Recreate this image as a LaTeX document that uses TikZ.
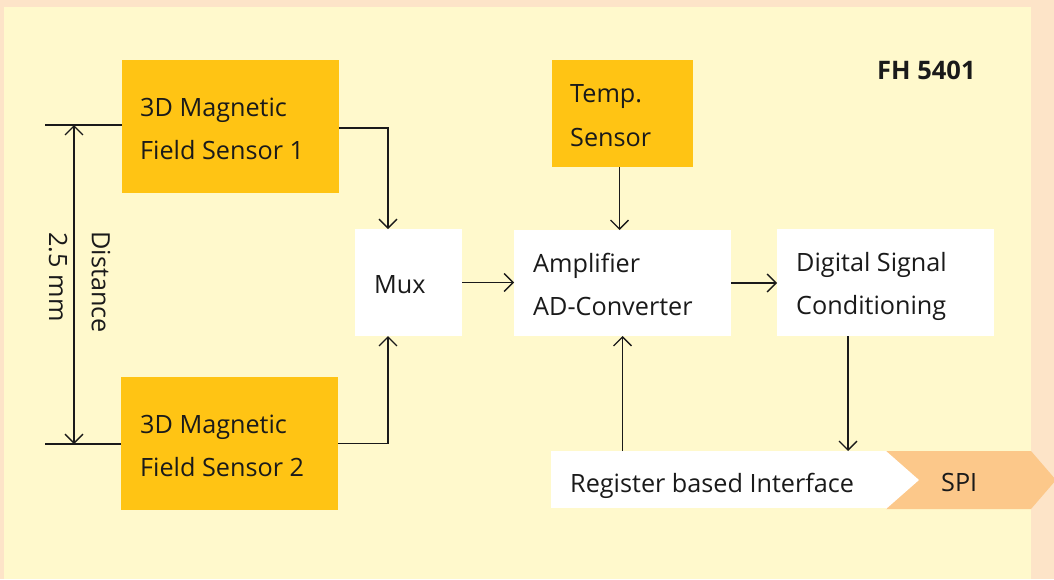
\documentclass[tikz,border=0pt]{standalone}
\usepackage{fontspec}
\setmainfont{Open Sans}
\usetikzlibrary{arrows.meta,calc}
\definecolor{outerbg}{HTML}{FDE4C8}
\definecolor{innerbg}{HTML}{FFF9CC}
\definecolor{sensororange}{HTML}{FFC414}
\definecolor{spicolor}{HTML}{FCC88A}
\definecolor{ink}{HTML}{1A1A1A}
\tikzset{
  obox/.style={fill=sensororange, anchor=north west, inner sep=0pt, outer sep=0pt},
  wbox/.style={fill=white, anchor=north west, inner sep=0pt, outer sep=0pt},
  lbl/.style={anchor=base west, inner sep=0pt, text=ink, font=\fontsize{25.2}{25.2}\selectfont},
  conn/.style={ink, line width=1.3pt, -{Straight Barb[length=9pt,width=18pt,line width=1.3pt]}},
  dimarrow/.style={ink, line width=1.3pt, {Straight Barb[length=9pt,width=18pt,line width=1.3pt]}-{Straight Barb[length=9pt,width=18pt,line width=1.3pt]}},
  plainline/.style={ink, line width=1.3pt},
}
\begin{document}
\begin{tikzpicture}[x=1pt,y=-1pt]
\useasboundingbox (0,0) rectangle (1054,579);
\clip (0,0) rectangle (1054,579);
\fill[outerbg] (0,0) rectangle (1054,579);
\fill[innerbg] (4,7) rectangle (1031,579);

% boxes
\node[obox, minimum width=217pt, minimum height=133pt] (s1) at (122,60) {};
\node[obox, minimum width=217pt, minimum height=133pt] (s2) at (121,377) {};
\node[obox, minimum width=141pt, minimum height=107pt] (temp) at (552,60) {};
\node[wbox, minimum width=107pt, minimum height=107pt] (mux) at (355,229) {};
\node[wbox, minimum width=217pt, minimum height=106pt] (amp) at (514,230) {};
\node[wbox, minimum width=217pt, minimum height=107pt] (dsc) at (777,229) {};
\node[wbox, minimum width=335pt, minimum height=57pt] (reg) at (551,451) {};

% SPI arrow shape
\fill[spicolor] (886,451) -- (1031,451) -- (1056,480) -- (1031,509) -- (886,509) -- cycle;
\fill[white] (886,451) -- (919,480) -- (886,509) -- cycle;

% texts
\node[lbl] (s1a) at (140,116.5) {3D Magnetic};
\node[lbl] (s1b) at (140,159.5) {Field Sensor 1};
\node[lbl] (s2a) at (140,433) {3D Magnetic};
\node[lbl] (s2b) at (140,476) {Field Sensor 2};
\node[lbl] (tmpa) at (570,102.7) {Temp.};
\node[lbl] (tmpb) at (570,146) {Sensor};
\node[lbl] (muxt) at (374,293) {Mux};
\node[lbl] (ampa) at (533,272) {Amplifier};
\node[lbl] (ampb) at (533,315) {AD-Converter};
\node[lbl] (dsca) at (796,271) {Digital Signal};
\node[lbl] (dscb) at (796,314.5) {Conditioning};
\node[lbl] (regt) at (570,492) {Register based Interface};
\node[lbl] (spit) at (941,491) {SPI};
\node[lbl, font=\fontsize{25.5}{25.5}\selectfont\bfseries] (title) at (877,79.3) {FH 5401};

\node[rotate=-90, inner sep=0pt, text=ink, font=\fontsize{25.2}{25.2}\selectfont] (dist) at (101,282) {Distance};
\node[rotate=-90, inner sep=0pt, text=ink, font=\fontsize{25.2}{25.2}\selectfont] (mm) at (58,277) {2.5 mm};

% dimension
\coordinate (d1) at (45,125);
\coordinate (d2) at (45,444);
\coordinate (a1) at (74,125);
\coordinate (a2) at (74,444);
\draw[plainline] (d1) -- (d1 -| s1.west);
\draw[plainline] (d2) -- (d2 -| s2.west);
\draw[dimarrow] (a1) -- (a2);

% connectors
\coordinate (mt) at ([xshift=-20.5pt]mux.north);
\coordinate (mb) at ([xshift=-20.5pt]mux.south);
\draw[conn] ([yshift=-1.5pt]s1.east) -| (mt);
\draw[conn] (s2.east) -| (mb);
\draw[conn] (mux.east) -- (mux.east -| amp.west);
\draw[conn] ([xshift=-3pt]temp.south) -- ([xshift=-3pt]temp.south |- amp.north);
\draw[conn] (amp.east) -- (amp.east -| dsc.west);
\coordinate (ds) at ([xshift=-37.5pt]dsc.south);
\draw[conn] (ds) -- (ds |- reg.north);
\coordinate (ru) at ([xshift=-96pt]reg.north);
\draw[conn] (ru) -- (ru |- amp.south);
\end{tikzpicture}
\end{document}
